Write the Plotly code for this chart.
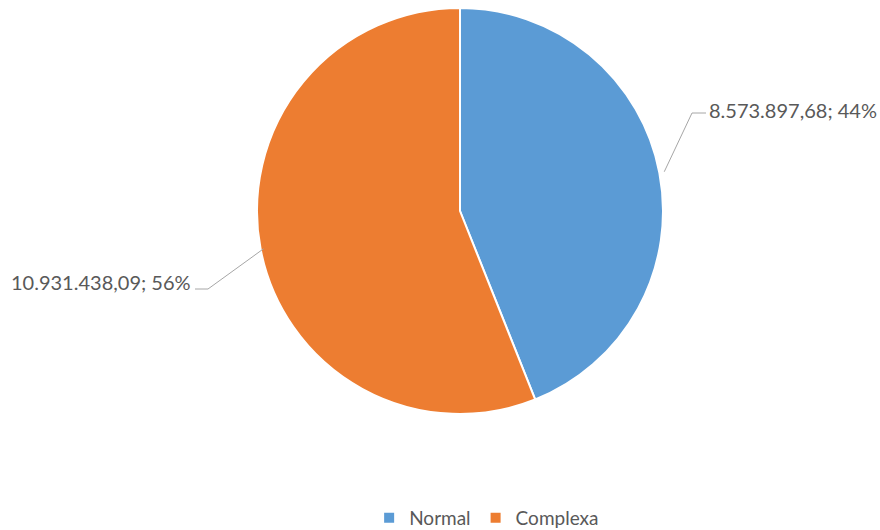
import math
import plotly.graph_objects as go

categories = ["Normal", "Complexa"]
values = [8573897.68, 10931438.09]
colors = ["#5B9BD5", "#ED7D31"]

W, H = 880, 530
cx, cy, r = 460, 211, 203

def fmt(v):
    s = f"{v:,.2f}"
    return s.replace(",", "X").replace(".", ",").replace("X", ".")

total = sum(values)
shares = [v / total for v in values]
texts = [f"{fmt(v)}; {round(s*100)}%" for v, s in zip(values, shares)]

fig = go.Figure(go.Pie(
    labels=categories, values=values, sort=False, direction="clockwise", rotation=0,
    marker=dict(colors=colors, line=dict(color="white", width=2)),
    textinfo="none", hoverinfo="label+value+percent",
    domain=dict(x=[(cx - r) / W, (cx + r) / W], y=[(H - cy - r) / H, (H - cy + r) / H]),
))

def px(x):
    return x / W

def py(y):
    return 1 - y / H

shapes = []
annotations = []
cum = 0.0
for i, s in enumerate(shares):
    mid = (cum + s / 2) * 2 * math.pi
    cum += s
    right = math.sin(mid) > 0
    rr = r + 5 if right else r - 3
    ex = cx + rr * math.sin(mid)
    ey = cy - rr * math.cos(mid)
    if right:
        kx, ky = 692, 113
        hx = kx + 14
        tx, anchor, ty = hx + 1, "left", ky - 3
    else:
        kx, ky = 208, 289
        hx = kx - 13
        tx, anchor, ty = hx - 2, "right", ky - 7
    line = dict(type="line", xref="paper", yref="paper", line=dict(color="#A6A6A6", width=1))
    shapes.append(dict(line, x0=px(ex), y0=py(ey), x1=px(kx), y1=py(ky)))
    shapes.append(dict(line, x0=px(kx), y0=py(ky), x1=px(hx), y1=py(ky)))
    annotations.append(dict(x=px(tx), y=py(ty), xref="paper", yref="paper",
                            text=texts[i], showarrow=False, xanchor=anchor, yanchor="middle",
                            font=dict(family="Lato", size=20, color="#595959")))

fig.update_layout(
    width=W, height=H, margin=dict(l=0, r=0, t=0, b=0, autoexpand=False),
    paper_bgcolor="white", plot_bgcolor="white",
    shapes=shapes, annotations=annotations,
    showlegend=True,
    legend=dict(orientation="h", x=0.553, xanchor="center", y=(H - 518) / H, yanchor="middle",
                font=dict(family="Lato", size=19, color="#595959"), traceorder="normal",
                itemwidth=30),
)

fig.write_html("out.html", config={"displayModeBar": False},
               post_script="document.body.style.margin='0';document.body.style.overflow='hidden';")
